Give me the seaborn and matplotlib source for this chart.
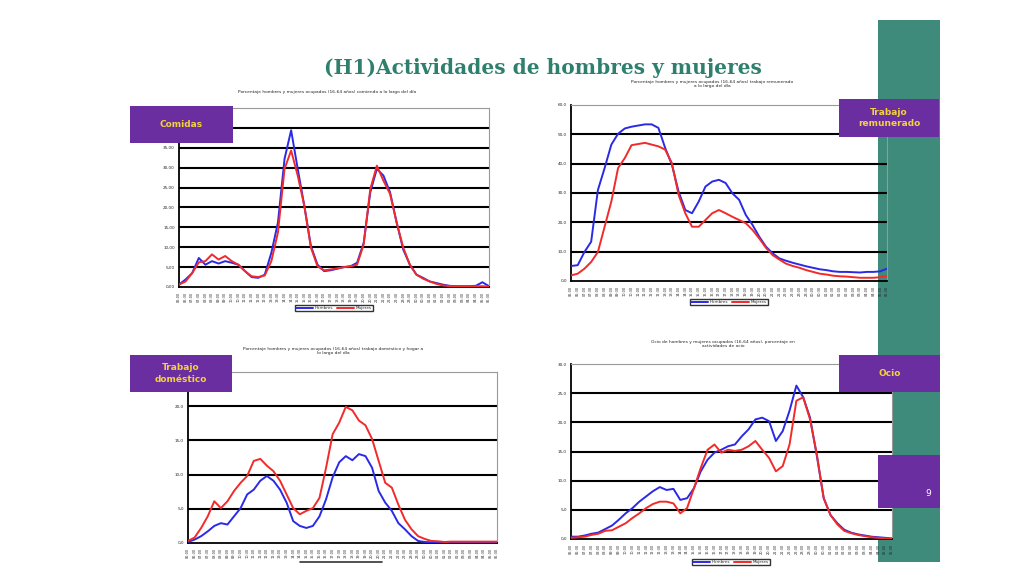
import numpy as np
import pandas as pd
import seaborn as sns
import matplotlib.pyplot as plt
from matplotlib.patches import Rectangle
from matplotlib.lines import Line2D

sns.set_style("white")
plt.rcParams['font.family'] = ['DejaVu Sans']

# --- datos: porcentaje cada media hora, de 06:00 a 05:30 ---
horas = [f"{(6 + i // 2) % 24:02d}:{'30' if i % 2 else '00'}" for i in range(48)]

comidas_h = [0.6, 1.9, 3.5, 7.3, 5.6, 6.5, 5.9, 6.5, 6.1, 5.6, 4.0, 2.5, 2.3, 3.1, 8.6, 16.2,
             32.2, 39.4, 29.7, 20.4, 10.3, 5.6, 4.0, 4.2, 4.6, 5.0, 5.2, 6.1, 11.1, 23.8, 29.7, 28.0,
             23.8, 16.2, 9.4, 5.6, 3.1, 2.3, 1.4, 1.0, 0.6, 0.3, 0.2, 0.2, 0.2, 0.3, 1.2, 0.2]
comidas_m = [0.6, 1.4, 3.5, 6.2, 6.5, 8.2, 6.9, 7.8, 6.5, 5.6, 4.0, 2.7, 2.5, 2.9, 6.5, 13.7,
             29.7, 34.3, 28.0, 20.4, 9.9, 5.2, 4.2, 4.4, 4.7, 5.0, 5.2, 5.6, 10.7, 24.6, 30.5, 26.7,
             23.4, 16.2, 9.9, 5.6, 3.1, 2.1, 1.4, 0.8, 0.4, 0.25, 0.2, 0.2, 0.2, 0.2, 0.2, 0.1]

remun_h = [5.1, 5.4, 9.9, 13.4, 31.0, 38.5, 46.5, 50.2, 52.0, 52.6, 53.0, 53.4, 53.4, 52.2, 45.4, 39.7,
           30.5, 24.2, 23.1, 27.1, 32.2, 33.9, 34.5, 33.4, 29.9, 27.7, 22.5, 19.1, 15.1, 11.7, 9.4, 7.7,
           6.9, 6.2, 5.6, 5.0, 4.5, 4.0, 3.7, 3.3, 3.1, 3.1, 3.0, 2.9, 3.1, 3.1, 3.3, 4.2]
remun_m = [1.9, 2.5, 4.2, 6.5, 9.9, 18.5, 27.1, 38.5, 41.9, 46.3, 46.7, 47.1, 46.5, 45.9, 44.8, 40.2,
           29.4, 23.1, 18.5, 18.5, 20.8, 23.1, 24.2, 23.1, 21.9, 20.8, 19.7, 17.4, 14.5, 11.3, 8.8, 7.3,
           5.9, 5.1, 4.5, 3.7, 3.1, 2.5, 2.2, 1.8, 1.6, 1.5, 1.3, 1.1, 1.1, 1.1, 1.3, 1.7]

domest_h = [0.15, 0.5, 1.0, 1.7, 2.5, 2.9, 2.7, 3.9, 5.1, 7.1, 7.8, 9.1, 9.8, 9.1, 7.8, 5.9,
            3.2, 2.5, 2.2, 2.5, 3.9, 6.4, 9.6, 11.8, 12.7, 12.1, 13.0, 12.7, 11.0, 7.6, 5.9, 4.7,
            2.9, 2.0, 1.0, 0.3, 0.15, 0.1, 0.1, 0.1, 0.1, 0.1, 0.1, 0.1, 0.1, 0.1, 0.1, 0.1]
domest_m = [0.3, 0.8, 2.2, 3.9, 6.1, 5.1, 6.1, 7.6, 8.8, 9.8, 12.0, 12.3, 11.3, 10.5, 9.1, 7.1,
            5.1, 4.2, 4.7, 5.1, 6.6, 11.0, 15.9, 17.6, 19.9, 19.4, 17.9, 17.2, 15.2, 12.0, 8.8, 8.1,
            5.6, 3.4, 2.0, 1.0, 0.6, 0.3, 0.25, 0.15, 0.2, 0.2, 0.2, 0.2, 0.2, 0.2, 0.2, 0.2]

ocio_h = [0.4, 0.4, 0.6, 0.9, 1.1, 1.7, 2.3, 3.3, 4.4, 5.3, 6.4, 7.3, 8.2, 8.9, 8.4, 8.6,
          6.7, 7.0, 8.7, 11.6, 13.6, 14.8, 15.3, 15.9, 16.2, 17.6, 18.8, 20.5, 20.8, 20.2, 16.8, 18.5,
          22.0, 26.3, 24.3, 20.8, 14.2, 7.0, 4.1, 2.7, 1.6, 1.1, 0.8, 0.6, 0.4, 0.3, 0.2, 0.1]
ocio_m = [0.2, 0.3, 0.4, 0.7, 0.9, 1.4, 1.5, 2.1, 2.7, 3.6, 4.4, 5.3, 6.0, 6.4, 6.4, 6.1,
          4.4, 5.3, 8.7, 12.2, 15.3, 16.2, 14.8, 15.3, 15.1, 15.3, 15.9, 16.8, 15.3, 13.9, 11.6, 12.5,
          16.2, 23.7, 24.3, 20.5, 14.5, 7.0, 4.1, 2.5, 1.4, 1.0, 0.7, 0.5, 0.3, 0.2, 0.1, 0.05]

AZUL = '#2a2ae6'
ROJO = '#f22a2a'
MORADO = '#6a2ea0'
AMARILLO = '#f3d23c'
VERDE = '#3e8a7b'

W, H = 1024, 576
fig = plt.figure(figsize=(10.24, 5.76), dpi=100)


def px(x0, y0, x1, y1):
    return [x0 / W, 1 - y1 / H, (x1 - x0) / W, (y1 - y0) / H]


def panel(rect, hombres, mujeres, ymax, step, fmt, ocultas=0, face='white'):
    ax = fig.add_axes(rect)
    ax.set_facecolor(face)
    n = len(hombres)
    df = pd.DataFrame({'t': list(range(n)) * 2,
                       'valor': hombres + mujeres,
                       'sexo': ['Hombres'] * n + ['Mujeres'] * n})
    sns.lineplot(data=df, x='t', y='valor', hue='sexo',
                 palette={'Hombres': AZUL, 'Mujeres': ROJO},
                 lw=1.4, ax=ax, legend=False, zorder=3)
    ax.set_xlim(0, n - 1)
    ax.set_ylim(0, ymax)
    yt = np.arange(0, ymax + 0.1, step)
    ax.set_yticks(yt)
    # las etiquetas tapadas por el recuadro morado no se ven en la diapositiva
    etiquetas = [fmt(v) for v in yt]
    for k in range(ocultas):
        etiquetas[-1 - k] = ''
    ax.set_yticklabels(etiquetas, fontsize=3)
    for v in yt[1:-1]:
        ax.axhline(v, color='black', lw=1.5, zorder=1)
    ax.set_xticks(range(n))
    ax.set_xticklabels(horas, rotation=90, fontsize=2.5)
    ax.tick_params(axis='x', length=2.5, width=0.9, pad=1, color='black')
    ax.tick_params(axis='y', length=2, width=0.8, pad=1, color='black')
    ax.set_xlabel('')
    ax.set_ylabel('')
    for s in ['left', 'bottom']:
        ax.spines[s].set_color('black')
        ax.spines[s].set_linewidth(1.3)
    for s in ['top', 'right']:
        ax.spines[s].set_color('#999999')
        ax.spines[s].set_linewidth(0.8)
    return ax


def leyenda(cx, cy):
    handles = [Line2D([], [], color=AZUL, lw=1.4), Line2D([], [], color=ROJO, lw=1.4)]
    fig.legend(handles, ['Hombres', 'Mujeres'], loc='center', bbox_to_anchor=(cx / W, 1 - cy / H),
               ncol=2, fontsize=3, frameon=True, fancybox=False, edgecolor='black',
               handlelength=4, borderpad=0.3, columnspacing=1, handletextpad=0.5)


def etiqueta(x0, y0, x1, y1, texto, fs=6.5):
    fig.add_artist(Rectangle((x0 / W, 1 - y1 / H), (x1 - x0) / W, (y1 - y0) / H,
                             transform=fig.transFigure, facecolor=MORADO, edgecolor='none', zorder=5))
    fig.text((x0 + x1) / 2 / W, 1 - (y0 + y1) / 2 / H, texto, ha='center', va='center',
             color=AMARILLO, fontsize=fs, fontweight='bold', linespacing=1.3, zorder=6)


# banda verde de la derecha (detras de los graficos)
fig.add_artist(Rectangle((878 / W, 1 - 562 / H), 62 / W, 542 / H, transform=fig.transFigure,
                         facecolor=VERDE, edgecolor='none', zorder=-1))

coma2 = lambda v: f"{v:.2f}".replace('.', ',')
coma1 = lambda v: f"{v:.1f}".replace('.', ',')

panel(px(179, 108, 489, 287), comidas_h, comidas_m, 45, 5, coma2, ocultas=2)
panel(px(571, 105, 887, 281), remun_h, remun_m, 60, 10, coma1, face='none')
panel(px(188, 372, 497, 543), domest_h, domest_m, 25, 5, coma1, ocultas=1)
panel(px(571, 364, 892, 539), ocio_h, ocio_m, 30, 5, coma1)

fig.text(543 / W, 1 - 68 / H, '(H1)Actividades de hombres y mujeres', ha='center', va='center',
         fontsize=14.5, fontweight='bold', family='DejaVu Serif', color='#2f7f6e')

fs_t = 3.2
fig.text(327 / W, 1 - 92 / H, 'Porcentaje hombres y mujeres ocupados (16-64 años) comiendo a lo largo del día',
         ha='center', va='center', fontsize=fs_t)
fig.text(712 / W, 1 - 84 / H, 'Porcentaje hombres y mujeres ocupados (16-64 años) trabajo remunerado\na lo largo del día',
         ha='center', va='center', fontsize=fs_t)
fig.text(333 / W, 1 - 351 / H, 'Porcentaje hombres y mujeres ocupados (16-64 años) trabajo doméstico y hogar a\nlo largo del día',
         ha='center', va='center', fontsize=fs_t)
fig.text(723 / W, 1 - 344 / H, 'Ocio de hombres y mujeres ocupados (16-64 años), porcentaje en\nactividades de ocio',
         ha='center', va='center', fontsize=fs_t)

leyenda(334, 308)
leyenda(729, 302)
leyenda(731, 562)
fig.add_artist(Line2D([300 / W, 382 / W], [1 - 562 / H, 1 - 562 / H], transform=fig.transFigure,
                      color='#333333', lw=1.2))

etiqueta(130, 106, 233, 143, 'Comidas')
etiqueta(839, 99, 939, 137, 'Trabajo\nremunerado')
etiqueta(130, 355, 232, 392, 'Trabajo\ndoméstico')
etiqueta(839, 355, 940, 392, 'Ocio')
fig.add_artist(Rectangle((878 / W, 1 - 508 / H), 62 / W, 53 / H, transform=fig.transFigure,
                         facecolor=MORADO, edgecolor='none', zorder=5))
fig.text(928 / W, 1 - 494 / H, '9', ha='center', va='center', color='white', fontsize=6.5, zorder=6)

fig.savefig('out.png', dpi=100)
